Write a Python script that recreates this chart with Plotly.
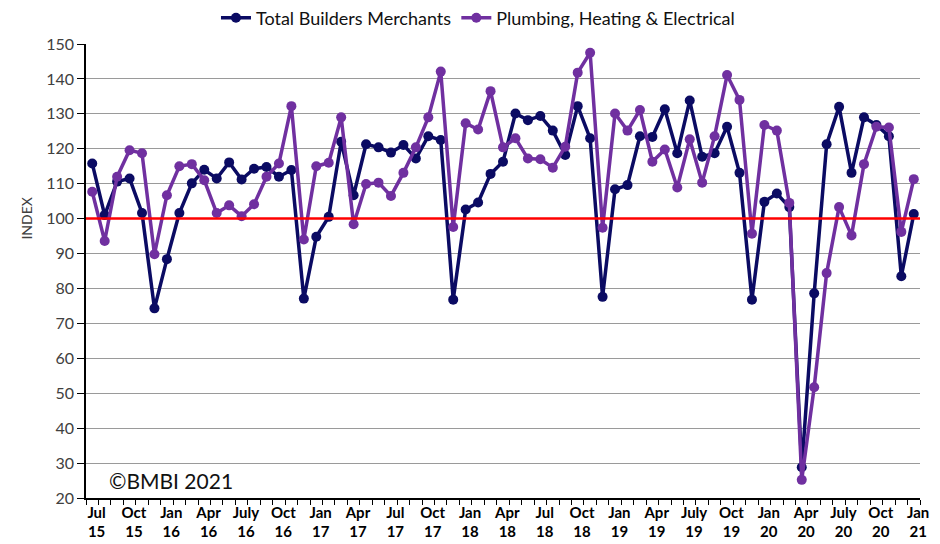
import plotly.graph_objects as go

# Monthly index, Jul 2015 .. Jan 2021
months = [
    "Jul 15", "Aug 15", "Sep 15", "Oct 15", "Nov 15", "Dec 15",
    "Jan 16", "Feb 16", "Mar 16", "Apr 16", "May 16", "Jun 16",
    "Jul 16", "Aug 16", "Sep 16", "Oct 16", "Nov 16", "Dec 16",
    "Jan 17", "Feb 17", "Mar 17", "Apr 17", "May 17", "Jun 17",
    "Jul 17", "Aug 17", "Sep 17", "Oct 17", "Nov 17", "Dec 17",
    "Jan 18", "Feb 18", "Mar 18", "Apr 18", "May 18", "Jun 18",
    "Jul 18", "Aug 18", "Sep 18", "Oct 18", "Nov 18", "Dec 18",
    "Jan 19", "Feb 19", "Mar 19", "Apr 19", "May 19", "Jun 19",
    "Jul 19", "Aug 19", "Sep 19", "Oct 19", "Nov 19", "Dec 19",
    "Jan 20", "Feb 20", "Mar 20", "Apr 20", "May 20", "Jun 20",
    "Jul 20", "Aug 20", "Sep 20", "Oct 20", "Nov 20", "Dec 20",
    "Jan 21",
]

total_builders = [
    115.8, 101.0, 110.6, 111.5, 101.6, 74.3,
    88.4, 101.6, 110.1, 114.0, 111.5, 116.1,
    111.2, 114.3, 114.8, 112.0, 113.9, 77.1,
    94.8, 100.5, 122.0, 106.7, 121.3, 120.4,
    118.9, 121.1, 117.2, 123.6, 122.5, 76.8,
    102.6, 104.6, 112.8, 116.3, 130.1, 128.2,
    129.4, 125.2, 118.2, 132.2, 123.0, 77.6,
    108.4, 109.6, 123.6, 123.4, 131.3, 118.7,
    133.8, 117.7, 118.7, 126.3, 113.1, 76.8,
    104.8, 107.2, 103.3, 28.8, 78.6, 121.3,
    132.0, 113.1, 129.0, 126.8, 123.6, 83.5,
    101.3,
]

plumbing_heating_electrical = [
    107.7, 93.6, 112.0, 119.6, 118.7, 89.8,
    106.7, 115.0, 115.6, 111.0, 101.6, 103.8,
    100.7, 104.1, 112.0, 115.8, 132.2, 94.0,
    115.0, 116.0, 129.0, 98.4, 109.9, 110.3,
    106.5, 113.1, 120.4, 129.0, 142.1, 97.6,
    127.3, 125.5, 136.5, 120.4, 123.0, 117.2,
    117.0, 114.6, 120.6, 141.8, 147.5, 97.4,
    130.1, 125.2, 131.1, 116.3, 119.8, 108.9,
    122.7, 110.3, 123.6, 141.1, 134.0, 95.7,
    126.8, 125.2, 104.5, 25.2, 51.7, 84.4,
    103.3, 95.2, 115.6, 126.3, 126.1, 96.2,
    111.3,
]

tick_labels = [
    "Jul<br>15", "Oct<br>15", "Jan<br>16", "Apr<br>16", "July<br>16", "Oct<br>16",
    "Jan<br>17", "Apr<br>17", "Jul<br>17", "Oct<br>17", "Jan<br>18", "Apr<br>18",
    "Jul<br>18", "Oct<br>18", "Jan<br>19", "Apr<br>19", "July<br>19", "Oct<br>19",
    "Jan<br>20", "Apr<br>20", "July<br>20", "Oct<br>20", "Jan<br>21",
]

baseline = 100

x = list(range(len(months)))
# quarterly labels, nudged slightly right of the category centre
label_nudge = 0.35
tick_positions = [i + label_nudge for i in x[::3]]

FONT = "Lato"
NAVY = "#0b0b63"
PURPLE = "#7030a0"

W, H = 940, 544
M_L, M_R, M_T, M_B = 86, 20, 44, 46
plot_w = W - M_L - M_R
plot_h = H - M_T - M_B

fig = go.Figure()

fig.add_trace(go.Scatter(
    x=x, y=total_builders, name="Total Builders Merchants",
    mode="lines+markers", text=months,
    line=dict(color=NAVY, width=3.5),
    marker=dict(color=NAVY, size=10),
))
fig.add_trace(go.Scatter(
    x=x, y=plumbing_heating_electrical, name="Plumbing, Heating & Electrical",
    mode="lines+markers", text=months,
    line=dict(color=PURPLE, width=3.5),
    marker=dict(color=PURPLE, size=10),
))
fig.add_trace(go.Scatter(
    x=[x[0] - 0.5, x[-1] + 0.5], y=[baseline, baseline],
    mode="lines", showlegend=False, hoverinfo="skip",
    line=dict(color="#ff0000", width=2.5),
))

fig.add_annotation(
    x=0.025, y=25, xref="x domain", yref="y", yanchor="middle",
    text="©BMBI 2021", showarrow=False, xanchor="left",
    font=dict(family=FONT, size=21, color="#111111"),
)

# vertical axis caption, sitting level with the 100 baseline
fig.add_annotation(
    x=(27 - M_L) / plot_w, xref="paper",
    y=baseline, yref="y",
    text="INDEX", showarrow=False, textangle=-90,
    xanchor="center", yanchor="middle",
    font=dict(family=FONT, size=14, color="#404040"),
)

fig.update_layout(
    width=W, height=H,
    margin=dict(l=M_L, r=M_R, t=M_T, b=M_B, autoexpand=False),
    paper_bgcolor="white", plot_bgcolor="white",
    font=dict(family=FONT, color="#404040"),
    legend=dict(
        orientation="h", x=0.47, xanchor="center", y=1.057, yanchor="middle",
        font=dict(family=FONT, size=18, color="#111111"),
        itemwidth=30, traceorder="normal",
    ),
)

fig.update_xaxes(
    range=[-0.5, len(months) - 0.5],
    automargin=False,
    tickmode="array", tickvals=tick_positions, ticktext=tick_labels,
    tickfont=dict(family=FONT, size=15, color="#000000", weight="bold"),
    ticklabelstandoff=0,
    showgrid=False, zeroline=False,
    showline=True, linecolor="#000000", linewidth=1.5,
    ticks="",
    minor=dict(ticks="outside", tickmode="linear", tick0=-0.5, dtick=1,
               ticklen=5, tickcolor="#000000", showgrid=False),
)

fig.update_yaxes(
    range=[20, 150], dtick=10, tick0=20,
    automargin=False,
    tickfont=dict(family=FONT, size=16, color="#404040"),
    showgrid=True, gridcolor="#9a9a9a", gridwidth=1,
    zeroline=False,
    showline=True, linecolor="#000000", linewidth=1.5,
    ticks="outside", ticklen=7, tickcolor="#000000",
)

fig.write_html("out.html")
